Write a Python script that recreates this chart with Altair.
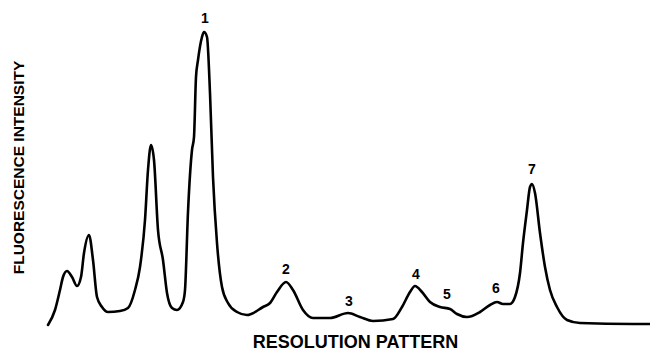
import altair as alt
import pandas as pd

# Trace of the resolution pattern (position along the pattern, fluorescence intensity)
position = [48, 55, 60, 63, 67, 72, 77, 81, 84, 89, 93, 97, 102, 108, 120, 128, 135, 140,
            145, 148, 151, 154, 158, 163, 167, 172, 177, 183, 185, 188, 192, 194, 196, 198,
            202, 204, 207, 210, 213, 217, 222, 228, 237, 247, 263, 270, 277, 286, 293, 303,
            313, 330, 348, 360, 373, 393, 402, 410, 415, 422, 430, 440, 450, 457, 467, 480,
            490, 497, 503, 510, 515, 520, 523, 527, 530, 532, 535, 540, 545, 550, 557, 567,
            580, 633, 657]
intensity = [5, 20, 40, 53, 59, 53, 44, 53, 77, 95, 70, 33, 23, 18, 19, 22, 40, 63,
             110, 160, 185, 170, 100, 70, 37, 22, 20, 28, 40, 118, 180, 193, 253, 270,
             293, 298, 293, 237, 153, 87, 43, 27, 18, 15, 23, 27, 38, 48, 40, 20,
             12, 12, 17, 13, 9, 11, 23, 38, 44, 38, 28, 23, 21, 16, 13, 18,
             25, 28, 26, 26, 33, 57, 87, 120, 143, 146, 137, 97, 63, 40, 23, 10,
             7, 6, 6]

# Peak labels
peak_labels = ["1", "2", "3", "4", "5", "6", "7"]
peak_position = [205, 286, 349, 416, 447, 496, 532]
peak_label_level = [311, 60, 28, 55, 35, 41, 160]

curve = pd.DataFrame({"position": position, "intensity": intensity})
peaks = pd.DataFrame({"label": peak_labels, "position": peak_position,
                      "level": peak_label_level})

xscale = alt.Scale(domain=[8, 650], nice=False, zero=False)
yscale = alt.Scale(domain=[-21, 322], nice=False, zero=False)

line = alt.Chart(curve).mark_line(
    color="black", strokeWidth=2.6, interpolate="monotone", strokeCap="round", strokeJoin="round"
).encode(
    x=alt.X("position:Q", scale=xscale,
            axis=alt.Axis(title="RESOLUTION PATTERN", domain=False, ticks=False, labels=False,
                          grid=False, titleX=347, titleY=-9, titleAlign="center",
                          titleBaseline="middle", titleFont="Liberation Sans",
                          titleFontSize=18, titleFontWeight="bold", titleColor="black")),
    y=alt.Y("intensity:Q", scale=yscale,
            axis=alt.Axis(title="FLUORESCENCE INTENSITY", domain=False, ticks=False,
                          labels=False, grid=False, titleX=10, titleY=159, titleAngle=270,
                          titleAlign="center", titleBaseline="middle",
                          titleFont="Liberation Sans",
                          titleFontSize=15.5, titleFontWeight="bold", titleColor="black")),
)

labels = alt.Chart(peaks).mark_text(
    font="Liberation Sans", fontSize=14, fontWeight="bold", color="black", baseline="middle"
).encode(
    x=alt.X("position:Q", scale=xscale),
    y=alt.Y("level:Q", scale=yscale),
    text="label:N",
)

chart = (line + labels).properties(
    width=642, height=343, padding=0,
    autosize=alt.AutoSizeParams(type="none"),
    background="white",
).configure_view(stroke=None)

chart.save("out.html", embed_options={"renderer": "svg", "actions": False})
